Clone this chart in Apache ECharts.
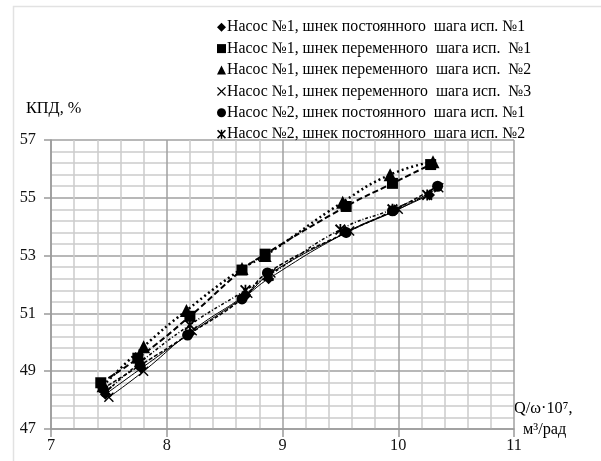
<!DOCTYPE html>
<html>
<head>
<meta charset="utf-8">
<script src="https://cdn.jsdelivr.net/npm/echarts@6/dist/echarts.min.js"></script>
<style>html,body{margin:0;padding:0;background:#fff}#c{width:601px;height:461px}</style>
</head>
<body>
<div id="c"></div>
<script>
const seriesNames = [
  'Насос №1, шнек постоянного  шага исп. №1',
  'Насос №1, шнек переменного  шага исп.  №1',
  'Насос №1, шнек переменного  шага исп.  №2',
  'Насос №1, шнек переменного  шага исп.  №3',
  'Насос №2, шнек постоянного  шага исп. №1',
  'Насос №2, шнек постоянного  шага исп. №2'
];
const xTicks = [7, 8, 9, 10, 11];
const yTicks = [47, 49, 51, 53, 55, 57];

const s1x = [7.47, 7.78, 8.20, 8.68, 8.88, 9.55, 9.97, 10.27];
const s1y = [48.2, 49.1, 50.3, 51.6, 52.2, 53.8, 54.55, 55.1];
const s2x = [7.43, 7.75, 8.20, 8.65, 8.85, 9.55, 9.95, 10.28];
const s2y = [48.6, 49.45, 50.9, 52.5, 53.05, 54.7, 55.5, 56.15];
const s3x = [7.45, 7.80, 8.17, 8.65, 8.85, 9.52, 9.93, 10.30];
const s3y = [48.5, 49.85, 51.1, 52.55, 53.0, 54.85, 55.8, 56.25];
const s4x = [7.50, 7.80, 8.22, 8.70, 8.90, 9.58, 10.00, 10.35];
const s4y = [48.1, 49.0, 50.4, 51.7, 52.4, 53.85, 54.6, 55.35];
const s5x = [7.45, 7.77, 8.18, 8.65, 8.87, 9.55, 9.95, 10.34];
const s5y = [48.4, 49.2, 50.25, 51.5, 52.4, 53.8, 54.55, 55.4];
const s6x = [7.48, 7.77, 8.20, 8.68, 8.88, 9.50, 9.95, 10.25];
const s6y = [48.3, 49.3, 50.6, 51.8, 52.3, 53.9, 54.6, 55.1];

const xs = [s1x, s2x, s3x, s4x, s5x, s6x];
const ys = [s1y, s2y, s3y, s4y, s5y, s6y];

const xPath = 'path://M0,1 L1,0 L5,4 L9,0 L10,1 L6,5 L10,9 L9,10 L5,6 L1,10 L0,9 L4,5Z';
const starPath = 'path://M0,1.2 L1.2,0 L5,3.8 L8.8,0 L10,1.2 L6.2,5 L10,8.8 L8.8,10 L5,6.2 L1.2,10 L0,8.8 L3.8,5Z M4.2,0 L5.8,0 L5.8,10 L4.2,10Z';
const symbols = ['diamond', 'rect', 'triangle', xPath, 'circle', starPath];
const symSizes = [11, 11, 13, 10, 11, 11];
const lineTypes = ['solid', [6, 3], [2, 3], 'solid', [4, 2], [3, 2, 1, 2]];
const lineWidths = [1, 2, 2.5, 1, 1.5, 1.5];

const serif = 'Liberation Serif';
const fs = 16.3;
const chart = echarts.init(document.getElementById('c'));
chart.setOption({
  animation: false,
  backgroundColor: '#fff',
  grid: { left: 51, right: 87, top: 140, bottom: 32 },
  legend: {
    orient: 'vertical',
    left: 212,
    top: 13,
    itemWidth: 9,
    itemHeight: 9,
    itemGap: 3,
    textStyle: { fontFamily: serif, fontSize: 15.8, lineHeight: 18.4, color: '#000', padding: [0, 0, 0, -4] },
    data: seriesNames.map((n, i) => ({ name: n, icon: symbols[i] })),
    itemStyle: { color: '#000' }
  },
  xAxis: {
    type: 'value', min: 7, max: 11, interval: 1,
    axisLine: { show: true, lineStyle: { color: '#9a9a9a', width: 1.5 } },
    axisTick: { show: true, length: 8, lineStyle: { color: '#9a9a9a', width: 1.5 } },
    axisLabel: { fontFamily: serif, fontSize: fs, color: '#111', margin: 9,
      formatter: v => xTicks.includes(v) ? String(v) : '' },
    splitLine: { show: true, lineStyle: { color: '#a0a0a0', width: 1.5 } },
    minorTick: { show: false, splitNumber: 5 },
    minorSplitLine: { show: true, lineStyle: { color: '#cccccc', width: 1.5 } }
  },
  yAxis: {
    type: 'value', min: 47, max: 57, interval: 2,
    axisLine: { show: true, lineStyle: { color: '#9a9a9a', width: 1.5 } },
    axisTick: { show: true, length: 7, lineStyle: { color: '#9a9a9a', width: 1.5 } },
    axisLabel: { fontFamily: serif, fontSize: fs, color: '#111', margin: 15,
      formatter: v => yTicks.includes(v) ? String(v) : '' },
    splitLine: { show: true, lineStyle: { color: '#a0a0a0', width: 1.5 } },
    minorTick: { show: false, splitNumber: 5 },
    minorSplitLine: { show: true, lineStyle: { color: '#cccccc', width: 1.5 } }
  },
  graphic: [
    { type: 'rect', shape: { x: 13.5, y: 6.5, width: 640, height: 500 }, style: { fill: 'none', stroke: '#e2e2e2', lineWidth: 1.5 }, silent: true, z: -10 },
    { type: 'text', left: 26, top: 101, style: { text: 'КПД, %', fontFamily: serif, fontSize: fs, fill: '#000' } },
    { type: 'text', left: 514, top: 401, style: { text: 'Q/ω·10⁷,', fontFamily: serif, fontSize: fs, fill: '#000' } },
    { type: 'text', left: 523, top: 422, style: { text: 'м³/рад', fontFamily: serif, fontSize: fs, fill: '#000' } }
  ],
  series: seriesNames.map((n, i) => ({
    name: n,
    type: 'line',
    smooth: true,
    data: xs[i].map((x, j) => [x, ys[i][j]]),
    symbol: symbols[i],
    symbolSize: symSizes[i],
    itemStyle: { color: '#000' },
    lineStyle: { color: '#000', width: lineWidths[i], type: lineTypes[i] },
    z: 3
  }))
});
</script>
</body>
</html>
